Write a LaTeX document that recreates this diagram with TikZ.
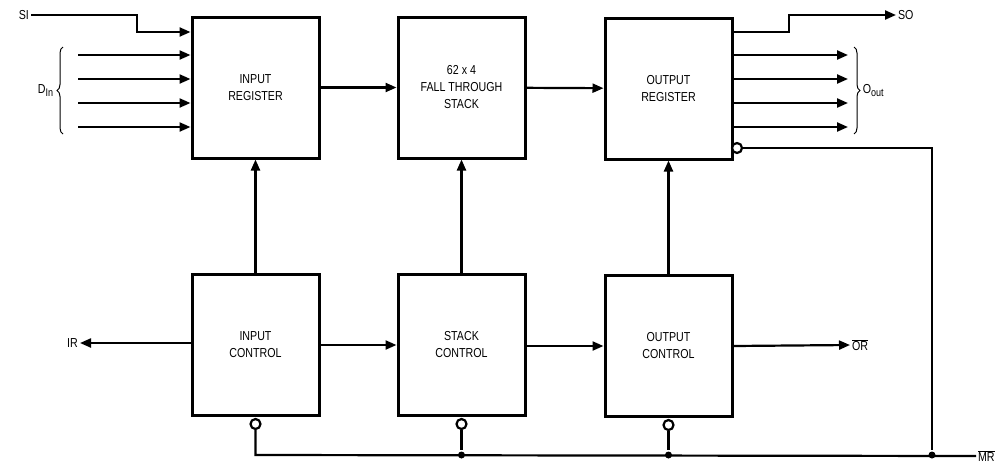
\documentclass[tikz,border=0pt]{standalone}
\usepackage{fontspec}
\setmainfont{Liberation Sans}[FakeStretch=0.82]
\usetikzlibrary{arrows.meta,decorations.pathreplacing}

\newcommand{\lowsub}[1]{\raisebox{-3.5pt}{\fontsize{11}{11}\selectfont #1}}

\begin{document}
\begin{tikzpicture}[x=1pt,y=-1pt,line width=2.2pt,font=\fontsize{13}{17}\selectfont]

    \tikzstyle{block}=[draw,line width=3pt,minimum width=127pt,minimum height=141pt,align=center,inner sep=0pt]
    \tikzstyle{sig}=[-{Triangle[length=11pt,width=9pt]}]
    \tikzstyle{bubble}=[circle,draw,fill=white,line width=2.2pt,minimum size=10pt,inner sep=0pt]
    \tikzstyle{joint}=[circle,fill,minimum size=7pt,inner sep=0pt]
    \tikzstyle{pin}=[inner sep=1pt]

    \useasboundingbox (0,0) rectangle (996,464);

    % top row
    \node[block] (InReg) at (255.5,87.5) {INPUT\\REGISTER};
    \node[block] (Stack) at (461.5,87.5) {62 x 4\\FALL THROUGH\\STACK};
    \node[block] (OutReg) at (668.5,88.5) {OUTPUT\\REGISTER};

    % bottom row
    \node[block] (InCtl) at (255.5,345) {INPUT\\CONTROL};
    \node[block] (StackCtl) at (461.5,345) {STACK\\CONTROL};
    \node[block] (OutCtl) at (668.5,346) {OUTPUT\\CONTROL};

    % serial in
    \node[pin,anchor=east] (SI) at (31,15) {SI};
    \coordinate (SIa) at (137,15);
    \coordinate (SIb) at (137,32);
    \draw[sig] (SI.east) -- (SIa) -- (SIb) -- (SIb -| InReg.west);

    % data in
    \foreach \y [count=\i] in {55,79,103,127} {
        \coordinate (Din\i) at (78,\y);
        \draw[sig] (Din\i) -- (Din\i -| InReg.west);
    }
    \draw[line width=1pt,decorate,decoration={brace,amplitude=6pt}]
        (63,134) -- (63,47) node[midway,left=6pt] (Din) {D\lowsub{In}};

    % serial out
    \coordinate (SOa) at (OutReg.east |- 0,32);
    \coordinate (SOb) at (789,32);
    \coordinate (SOc) at (789,15);
    \node[pin,anchor=west] (SO) at (896,15) {SO};
    \draw[sig] (SOa) -- (SOb) -- (SOc) -- (SO.west);

    % data out
    \foreach \y [count=\i] in {55,79,103,127} {
        \coordinate (Dout\i) at (848,\y);
        \draw[sig] (Dout\i -| OutReg.east) -- (Dout\i);
    }
    \draw[line width=1pt,decorate,decoration={brace,amplitude=6pt}]
        (854,47) -- (854,134) node[midway,right=5pt] (Oout) {O\lowsub{out}};

    % data path
    \draw[sig] (InReg) -- (Stack);
    \draw[sig] (Stack) -- (OutReg);

    % control to registers
    \draw[sig] (InCtl.north) -- (InReg.south);
    \draw[sig] (StackCtl.north) -- (Stack.south);
    \draw[sig] (OutCtl.north) -- (OutReg.south);

    % control chain
    \node[pin,anchor=east] (IR) at (80,343) {IR};
    \draw[sig] (InCtl.west |- IR) -- (IR.east);
    \draw[sig] (InCtl.east |- StackCtl) -- (StackCtl.west);
    \draw[sig] (StackCtl.east |- OutCtl) -- (OutCtl.west);
    \node[pin,anchor=west] (OR) at (850,345) {$\overline{\mbox{OR}}$};
    \draw[sig] (OutCtl.east) -- (OR.west);

    % master reset
    \node[bubble] (InBub) at (255.5,424) {};
    \node[bubble] (StackBub) at (461.5,424) {};
    \node[bubble] (OutBub) at (668.5,425) {};
    \node[bubble] (RegBub) at (737,148) {};
    \node[joint] (StackJ) at (461.5,455) {};
    \node[joint] (OutJ) at (668.5,455) {};
    \node[joint] (MRJ) at (932,455) {};
    \coordinate (BusL) at (255.5,455);
    \coordinate (RegTurn) at (932,148);
    \node[pin,anchor=west] (MR) at (976,456) {$\overline{\mbox{MR}}$};

    \draw (InBub.south) -- (BusL) -- (MR.west);
    \draw (StackBub.south) -- (StackJ);
    \draw (OutBub.south) -- (OutJ);
    \draw (RegBub.east) -- (RegTurn) -- (MRJ);

\end{tikzpicture}
\end{document}
